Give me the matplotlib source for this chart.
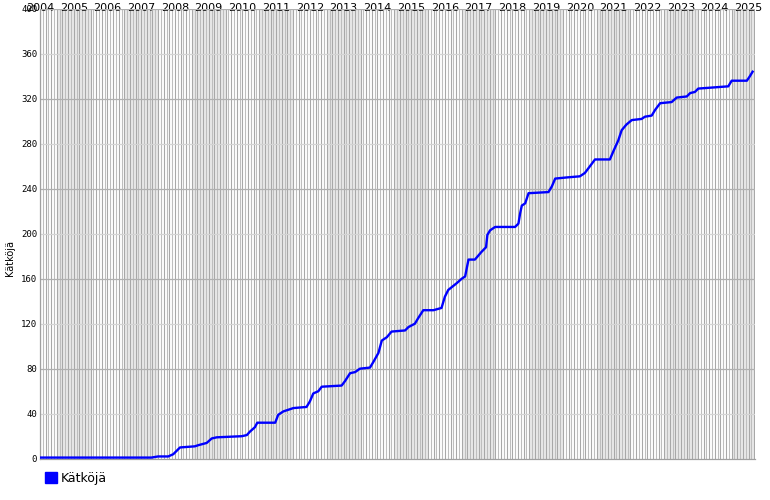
import matplotlib.pyplot as plt
from matplotlib.patches import Patch
import numpy as np

# Cumulative finds, decimal year -> count
years = [2004.00, 2007.30, 2007.50, 2007.80, 2007.95, 2008.15, 2008.59, 2008.69,
         2008.94, 2009.09, 2009.24, 2009.98, 2010.13, 2010.22, 2010.37, 2010.44,
         2010.97, 2011.06, 2011.21, 2011.51, 2011.90, 2012.00, 2012.10, 2012.25,
         2012.35, 2012.94, 2013.04, 2013.19, 2013.34, 2013.48, 2013.78, 2013.88,
         2014.03, 2014.13, 2014.28, 2014.42, 2014.82, 2014.92, 2015.11, 2015.21,
         2015.36, 2015.66, 2015.90, 2016.00, 2016.10, 2016.35, 2016.50, 2016.60,
         2016.70, 2016.89, 2017.09, 2017.22, 2017.26, 2017.34, 2017.49, 2018.08,
         2018.18, 2018.23, 2018.28, 2018.38, 2018.48, 2019.07, 2019.17, 2019.27,
         2019.61, 2020.00, 2020.15, 2020.30, 2020.45, 2020.89, 2020.99, 2021.14,
         2021.24, 2021.38, 2021.54, 2021.83, 2021.93, 2022.13, 2022.23, 2022.38,
         2022.72, 2022.87, 2023.17, 2023.27, 2023.41, 2023.51, 2023.96, 2024.40,
         2024.50, 2024.95, 2025.04, 2025.12]
counts = [1, 1, 2, 2, 4, 10, 11, 12,
          14, 18, 19, 20, 21, 24, 28, 32,
          32, 39, 42, 45, 46, 51, 58, 60,
          64, 65, 69, 76, 77, 80, 81, 86,
          94, 105, 108, 113, 114, 117, 120, 125,
          132, 132, 134, 144, 150, 156, 160, 162,
          177, 177, 184, 188, 199, 203, 206, 206,
          209, 218, 225, 227, 236, 237, 242, 249,
          250, 251, 254, 260, 266, 266, 273, 283,
          292, 297, 301, 302, 304, 305, 310, 316,
          317, 321, 322, 325, 326, 329, 330, 331,
          336, 336, 340, 344]

year_labels = list(range(2004, 2026))
y_ticks = list(range(0, 401, 40))
series_name = "Kätköjä"

fig = plt.figure(figsize=(7.7, 5), dpi=100)
ax = fig.add_axes([40 / 770, 41.3 / 500, 715 / 770, 450 / 500])
x_end = 2004 + 715 / 33.74
ax.set_xlim(2004, x_end)
ax.set_ylim(0, 400)

# alternating year-long shading (July to July)
for y0 in range(2004, 2026, 2):
    ax.axvspan(y0 + 0.5, y0 + 1.5, color="#e9e9e9", lw=0, zorder=0)

# monthly vertical lines
for i, m in enumerate(np.arange(2004, x_end, 1 / 12)):
    c = "#a8a8a8" if i % 2 == 0 else "#bebebe"
    ax.axvline(m, color=c, lw=0.8, zorder=1)

# horizontal grid
for v in y_ticks[1:]:
    c = "#b0b0b0" if v % 80 == 0 else "#d4d4d4"
    ax.axhline(v, color=c, lw=0.9, zorder=2)

ax.plot(years, counts, color="#0000ff", lw=1.7, zorder=3)

for s in ["top", "right"]:
    ax.spines[s].set_visible(False)
for s in ["left", "bottom"]:
    ax.spines[s].set_color("#a0a0a0")
    ax.spines[s].set_linewidth(0.9)

ax.xaxis.tick_top()
ax.set_xticks(year_labels)
ax.set_xticklabels([str(y) for y in year_labels], fontsize=8)
ax.tick_params(axis="x", length=0, pad=-2.8)
ax.set_yticks(y_ticks)
ax.set_yticklabels([str(v) for v in y_ticks], fontsize=6.5,
                   family="DejaVu Sans Mono")
ax.tick_params(axis="y", length=0, pad=2)

fig.text(10 / 770, 1 - 258 / 500, series_name, rotation=90, fontsize=7,
         ha="center", va="center")

fig.legend(handles=[Patch(color="#0000ff")], labels=[series_name],
           loc="lower left", bbox_to_anchor=(34 / 770, 4 / 500), frameon=False,
           handlelength=0.9, handleheight=0.9, handletextpad=0.3, fontsize=9)

fig.savefig("out.png", dpi=100)
